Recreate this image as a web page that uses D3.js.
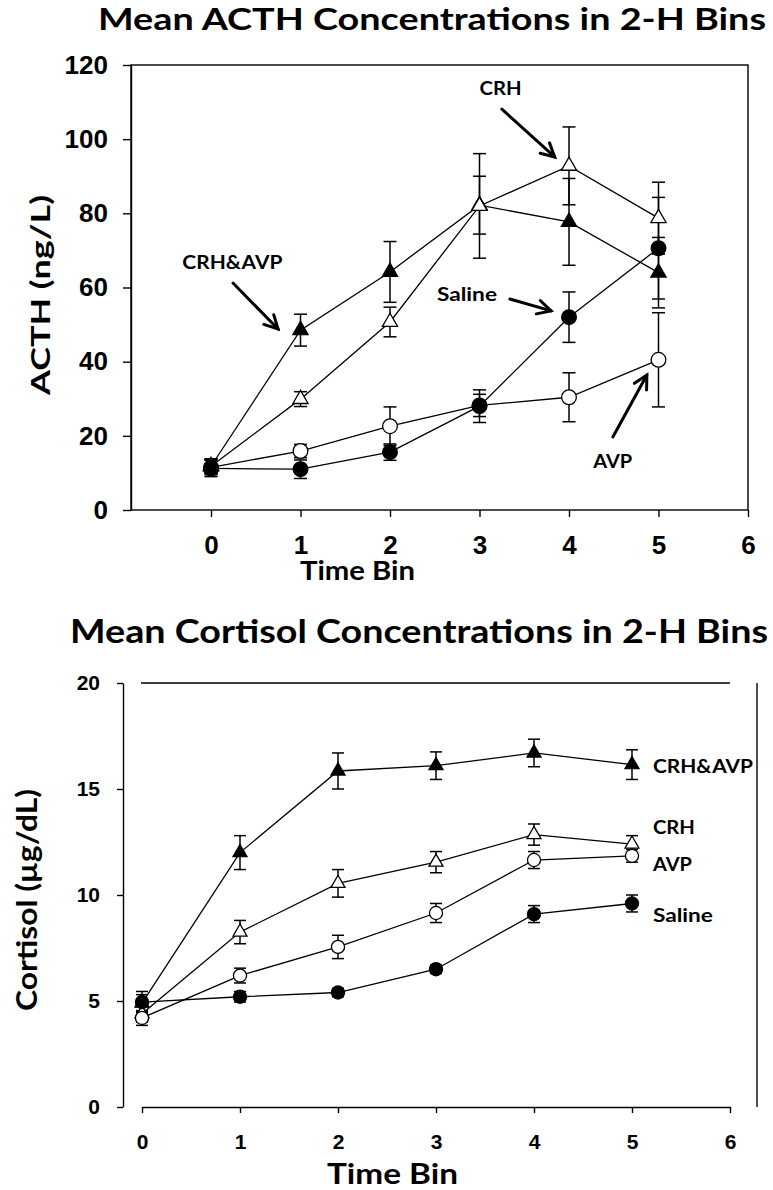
<!DOCTYPE html>
<html>
<head>
<meta charset="utf-8">
<script src="https://cdn.jsdelivr.net/npm/d3@7"></script>
<style>
  html, body { margin: 0; padding: 0; background: #fff; }
  svg { display: block; }
</style>
</head>
<body>
<svg id="chart" width="773" height="1190"></svg>
<script>
// ---------------- DATA ----------------
const timeBins = [0, 1, 2, 3, 4, 5];
const xTickValues = [0, 1, 2, 3, 4, 5, 6];
const acthTicks = [0, 20, 40, 60, 80, 100, 120];
const cortTicks = [0, 5, 10, 15, 20];

const seriesNames = ["CRH&AVP", "CRH", "AVP", "Saline"];
const seriesMarkers = ["triangleFilled", "triangleOpen", "circleOpen", "circleFilled"];

// ACTH (ng/L)
const acthCrhAvp = [11.8, 48.5, 64.2, 82.2, 77.7, 64.0];
const acthCrhAvpErr = [2.0, 4.3, 8.2, 7.8, 11.7, 9.5];
const acthCrh = [11.8, 29.9, 50.7, 82.0, 92.8, 78.7];
const acthCrhErr = [2.0, 2.0, 4.0, 14.1, 10.5, 9.7];
const acthAvp = [11.5, 15.9, 22.6, 28.2, 30.4, 40.5];
const acthAvpErr = [2.0, 1.8, 5.2, 3.0, 6.6, 12.7];
const acthSaline = [11.2, 11.0, 15.6, 28.0, 52.0, 70.6];
const acthSalineErr = [2.2, 2.5, 2.2, 4.4, 6.8, 13.7];

// Cortisol (µg/dL)
const cortCrhAvp = [4.9, 12.0, 15.85, 16.1, 16.7, 16.15];
const cortCrhAvpErr = [0.4, 0.8, 0.85, 0.65, 0.65, 0.7];
const cortCrh = [4.4, 8.25, 10.55, 11.55, 12.85, 12.4];
const cortCrhErr = [0.4, 0.55, 0.65, 0.5, 0.5, 0.4];
const cortAvp = [4.2, 6.2, 7.55, 9.15, 11.65, 11.85];
const cortAvpErr = [0.35, 0.35, 0.55, 0.45, 0.4, 0.3];
const cortSaline = [4.95, 5.2, 5.4, 6.5, 9.1, 9.6];
const cortSalineErr = [0.5, 0.25, 0.2, 0.2, 0.4, 0.4];

// Annotations (data coordinates)
const acthLabels = [
  { text: "CRH&AVP", x: -0.32, y: 65.0 },
  { text: "CRH", x: 3.0, y: 111.9 },
  { text: "Saline", x: 2.525, y: 56.4 },
  { text: "AVP", x: 4.27, y: 11.3 }
];
const acthArrows = [
  { x1: 0.246, y1: 61.2, x2: 0.749, y2: 48.8 },
  { x1: 3.25, y1: 108.1, x2: 3.84, y2: 95.2 },
  { x1: 3.34, y1: 56.9, x2: 3.80, y2: 53.7 },
  { x1: 4.49, y1: 19.7, x2: 4.87, y2: 36.4 }
];
const cortLabels = [
  { text: "CRH&AVP", x: 5.214, y: 15.75 },
  { text: "CRH", x: 5.214, y: 12.88 },
  { text: "AVP", x: 5.214, y: 11.13 },
  { text: "Saline", x: 5.214, y: 8.73 }
];

// ---------------- DRAWING ----------------
const svg = d3.select("#chart");
const titleFont = "Lato, 'Open Sans', sans-serif";
const tickFont = "'Liberation Sans', Arial, sans-serif";

function buildSeries(vals, errs) {
  return vals.map((v, i) => ({ x: timeBins[i], y: v, e: errs[i] }));
}

function drawPanel(cfg) {
  const g = svg.append("g");
  const x = cfg.x, y = cfg.y;

  const line = d3.line().x(d => x(d.x)).y(d => y(d.y));
  cfg.series.forEach(s => {
    g.append("path").datum(s.data).attr("d", line)
      .attr("fill", "none").attr("stroke", "#000").attr("stroke-width", 1.3);
  });
  cfg.series.forEach(s => {
    const eb = g.append("g").attr("stroke", "#000").attr("stroke-width", 1.5);
    s.data.forEach(d => {
      eb.append("line").attr("x1", x(d.x)).attr("x2", x(d.x))
        .attr("y1", y(d.y + d.e)).attr("y2", y(d.y - d.e));
      [d.y + d.e, d.y - d.e].forEach(v => {
        eb.append("line").attr("x1", x(d.x) - cfg.cap / 2).attr("x2", x(d.x) + cfg.cap / 2)
          .attr("y1", y(v)).attr("y2", y(v));
      });
    });
  });
  cfg.series.slice().reverse().forEach(s => {
    const isTri = s.marker.startsWith("triangle");
    const filled = s.marker.endsWith("Filled");
    const sym = d3.symbol().type(isTri ? d3.symbolTriangle : d3.symbolCircle)
      .size(isTri ? cfg.triSize : cfg.circSize);
    g.selectAll(null).data(s.data).enter().append("path")
      .attr("d", sym)
      .attr("transform", d => `translate(${x(d.x)},${y(d.y)})`)
      .attr("fill", filled ? "#000" : "#fff")
      .attr("stroke", "#000").attr("stroke-width", 1.3);
  });
  return g;
}

function styleAxis(sel, size) {
  sel.selectAll("text").attr("font-family", tickFont).attr("font-weight", "bold")
    .attr("font-size", size).attr("fill", "#000");
  sel.selectAll("line").attr("stroke", "#000").attr("stroke-width", 1.4);
  sel.selectAll("path").attr("stroke", "#000").attr("stroke-width", 1.4);
}

function boldText(txt, x, y, size, len) {
  return svg.append("text").text(txt).attr("x", x).attr("y", y)
    .attr("font-family", titleFont).attr("font-weight", "bold").attr("font-size", size)
    .attr("textLength", len).attr("lengthAdjust", "spacingAndGlyphs").attr("fill", "#000");
}

// ===== Top: ACTH =====
const xTop = d3.scaleLinear().domain([0, 6]).range([211, 748]);
const yTop = d3.scaleLinear().domain([0, 120]).range([510, 65]);

boldText("Mean ACTH Concentrations in 2-H Bins", 98, 30, 29.5, 668);

svg.append("rect").attr("x", 131).attr("y", yTop(120)).attr("width", xTop(6) - 131)
  .attr("height", yTop(0) - yTop(120)).attr("fill", "none").attr("stroke", "#000").attr("stroke-width", 1.4);

const yAxisTop = svg.append("g").attr("transform", "translate(131,0)")
  .call(d3.axisLeft(yTop).tickValues(acthTicks).tickFormat(d3.format("d"))
    .tickSize(8).tickSizeOuter(0).tickPadding(15));
styleAxis(yAxisTop, 26);
const xAxisTop = svg.append("g").attr("transform", `translate(0,${yTop(0)})`)
  .call(d3.axisBottom(xTop).tickValues(xTickValues).tickFormat(d3.format("d"))
    .tickSize(7).tickSizeOuter(0).tickPadding(19));
styleAxis(xAxisTop, 26);
xAxisTop.select(".domain").remove();

boldText("Time Bin", 300, 580, 27, 115);
svg.append("text").text("ACTH (ng/L)")
  .attr("transform", "translate(50,295) rotate(-90)").attr("text-anchor", "middle")
  .attr("font-family", titleFont).attr("font-weight", "bold").attr("font-size", 27)
  .attr("textLength", 200).attr("lengthAdjust", "spacingAndGlyphs");

const topSeries = [
  { marker: seriesMarkers[3], data: buildSeries(acthSaline, acthSalineErr) },
  { marker: seriesMarkers[2], data: buildSeries(acthAvp, acthAvpErr) },
  { marker: seriesMarkers[1], data: buildSeries(acthCrh, acthCrhErr) },
  { marker: seriesMarkers[0], data: buildSeries(acthCrhAvp, acthCrhAvpErr) }
];
drawPanel({ x: xTop, y: yTop, series: topSeries, cap: 13, triSize: 100, circSize: 170 });

const labelWidths = { "CRH&AVP": 100, "CRH": 42, "Saline": 60, "AVP": 39 };
acthLabels.forEach(l => boldText(l.text, xTop(l.x), yTop(l.y), 19, labelWidths[l.text]));
acthArrows.forEach(a => {
  const x1 = xTop(a.x1), y1 = yTop(a.y1), x2 = xTop(a.x2), y2 = yTop(a.y2);
  const ang = Math.atan2(y2 - y1, x2 - x1);
  const L = 15, spread = Math.PI / 6.5;
  const g = svg.append("g").attr("stroke", "#000").attr("stroke-width", 3)
    .attr("fill", "none").attr("stroke-linecap", "round");
  g.append("line").attr("x1", x1).attr("y1", y1).attr("x2", x2).attr("y2", y2);
  g.append("path").attr("d",
    `M${x2 - L * Math.cos(ang - spread)},${y2 - L * Math.sin(ang - spread)} L${x2},${y2} L${x2 - L * Math.cos(ang + spread)},${y2 - L * Math.sin(ang + spread)}`);
});

// ===== Bottom: Cortisol =====
const xBot = d3.scaleLinear().domain([0, 6]).range([142, 730]);
const yBot = d3.scaleLinear().domain([0, 20]).range([1107, 683]);

boldText("Mean Cortisol Concentrations in 2-H Bins", 70, 643, 32, 698);

svg.append("line").attr("x1", 141).attr("x2", xBot(6)).attr("y1", yBot(20)).attr("y2", yBot(20))
  .attr("stroke", "#000").attr("stroke-width", 1.4);
svg.append("line").attr("x1", 757).attr("x2", 757).attr("y1", yBot(20)).attr("y2", yBot(0))
  .attr("stroke", "#000").attr("stroke-width", 1.4);

const yAxisBot = svg.append("g").attr("transform", "translate(123,0)")
  .call(d3.axisLeft(yBot).tickValues(cortTicks).tickFormat(d3.format("d"))
    .tickSize(6).tickSizeOuter(0).tickPadding(17));
styleAxis(yAxisBot, 21);
const xAxisBot = svg.append("g").attr("transform", `translate(0,${yBot(0)})`)
  .call(d3.axisBottom(xBot).tickValues(xTickValues).tickFormat(d3.format("d"))
    .tickSize(6).tickSizeOuter(0).tickPadding(21));
styleAxis(xAxisBot, 21);

boldText("Time Bin", 327, 1184, 29, 131);
svg.append("text").text("Cortisol (µg/dL)")
  .attr("transform", "translate(37,900) rotate(-90)").attr("text-anchor", "middle")
  .attr("font-family", titleFont).attr("font-weight", "bold").attr("font-size", 29)
  .attr("textLength", 222).attr("lengthAdjust", "spacingAndGlyphs");

const botSeries = [
  { marker: seriesMarkers[3], data: buildSeries(cortSaline, cortSalineErr) },
  { marker: seriesMarkers[2], data: buildSeries(cortAvp, cortAvpErr) },
  { marker: seriesMarkers[1], data: buildSeries(cortCrh, cortCrhErr) },
  { marker: seriesMarkers[0], data: buildSeries(cortCrhAvp, cortCrhAvpErr) }
];
drawPanel({ x: xBot, y: yBot, series: botSeries, cap: 12, triSize: 85, circSize: 135 });

cortLabels.forEach(l => boldText(l.text, xBot(l.x), yBot(l.y), 19, labelWidths[l.text]));
</script>
</body>
</html>
